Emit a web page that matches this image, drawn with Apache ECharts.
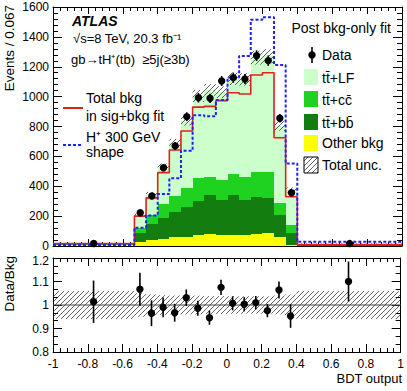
<!DOCTYPE html>
<html>
<head>
<meta charset="utf-8">
<script src="https://cdn.jsdelivr.net/npm/echarts@6/dist/echarts.min.js"></script>
<style>
  html, body { margin: 0; padding: 0; background: #fff; }
  #chart { width: 407px; height: 391px; }
</style>
</head>
<body>
<div id="chart"></div>
<script>
// BDT output bin edges (first and last bins are wide)
const binEdges = [-1, -0.5333, -0.4667, -0.4, -0.3333, -0.2667, -0.2, -0.1333, -0.0667, 0,
                  0.0667, 0.1333, 0.2, 0.2667, 0.3333, 0.4, 1];

// post bkg-only fit, events / 0.067
const otherBkg = [5, 30, 40, 50, 57, 62, 72, 82, 74, 74, 76, 78, 84, 62, 5, 3];
const ttbb     = [4, 55, 110, 140, 168, 198, 228, 259, 234, 267, 234, 252, 236, 148, 85, 4];
const ttcc     = [2, 33, 60, 90, 113, 130, 155, 123, 134, 141, 150, 167, 173, 76, 50, 2];
const ttLF     = [6, 89, 137, 250, 352, 450, 550, 581, 588, 637, 655, 764, 778, 518, 235, 6];
const totUnc   = [0.06, 0.05, 0.045, 0.042, 0.04, 0.04, 0.04, 0.038, 0.038, 0.037, 0.037, 0.037, 0.037, 0.04, 0.045, 0.06];

const dataVals = [17, 223, 335, 524, 670, 866, 993, 989, 1105, 1127, 1118, 1274, 1241, 855, 357, 16];
const dataErr  = [1.5, 15, 18, 23, 26, 29, 32, 31, 33, 34, 33, 36, 35, 29, 19, 1.5];

const sigBkgTotal = [16, 200, 322, 491, 643, 770, 930, 935, 973, 1026, 1018, 1145, 1160, 725, 330, 10];
const hplusShape  = [6, 123, 205, 348, 453, 638, 875, 868, 977, 1128, 1272, 1515, 1532, 1212, 553, 28];

const ratioVals = [1.014, 1.067, 0.965, 0.99, 0.967, 1.031, 0.986, 0.946, 1.075, 1.007, 1.003, 1.01, 0.976, 1.064, 0.953, 1.1];
const ratioErr  = [0.09, 0.07, 0.055, 0.042, 0.038, 0.035, 0.032, 0.03, 0.032, 0.03, 0.03, 0.028, 0.028, 0.036, 0.05, 0.085];

const FONT = '"Liberation Sans", Arial, sans-serif';
const C_LF = '#ccffcc', C_CC = '#1fd21f', C_BB = '#137d0f', C_OTHER = '#ffff00';
const C_RED = '#e0201b', C_BLUE = '#1f1fff';

const centers = dataVals.map((_, i) => (binEdges[i] + binEdges[i + 1]) / 2);
const stepPoints = vals => binEdges.map((e, i) => [e, vals[Math.min(i, vals.length - 1)]]);

// stack the components bottom-up
const layers = [[otherBkg, C_OTHER], [ttbb, C_BB], [ttcc, C_CC], [ttLF, C_LF]];
const stackRows = [];
let base = otherBkg.map(() => 0);
layers.forEach(([vals]) => {
  const top = vals.map((v, i) => base[i] + v);
  stackRows.push(vals.map((v, i) => [binEdges[i], binEdges[i + 1], base[i], top[i]]));
  base = top;
});
const totalBkg = base;

function makeHatch() {
  const n = 5;
  const c = document.createElement('canvas');
  c.width = n; c.height = n;
  const g = c.getContext('2d');
  g.strokeStyle = '#222';
  g.lineWidth = 0.7;
  g.beginPath();
  g.moveTo(0, n); g.lineTo(n, 0);
  g.moveTo(-1, 1); g.lineTo(1, -1);
  g.moveTo(n - 1, n + 1); g.lineTo(n + 1, n - 1);
  g.stroke();
  return { image: c, repeat: 'repeat', imageWidth: n, imageHeight: n };
}
const hatch = makeHatch();

function axis(extra, tickLen, minorLen, minorSplit) {
  return Object.assign({
    type: 'value',
    axisLine: { show: true, onZero: false, lineStyle: { color: '#000', width: 1 } },
    axisTick: { show: true, inside: true, length: tickLen, lineStyle: { color: '#000', width: 1 } },
    minorTick: { show: true, splitNumber: minorSplit, length: minorLen, lineStyle: { color: '#000', width: 1 } },
    splitLine: { show: false },
    axisLabel: { show: false }
  }, extra);
}
const tickLabel = (margin, formatter) => ({
  show: true, color: '#000', fontSize: 12, fontFamily: FONT, margin,
  formatter: formatter || (v => String(+v.toFixed(2))),
  rich: { low: { fontSize: 12, fontFamily: FONT, color: '#000', padding: [6, 0, 0, 0] } }
});

function rectSeries(xi, yi, rows, fill, z, snap) {
  return {
    type: 'custom', xAxisIndex: xi, yAxisIndex: yi, silent: true, z, clip: true,
    data: rows,
    renderItem: (params, api) => {
      const p0 = api.coord([api.value(0), api.value(3)]);
      const p1 = api.coord([api.value(1), api.value(2)]);
      const r = snap ? Math.round : (v => v);
      const x = r(p0[0]), y = r(p0[1]);
      return { type: 'rect', shape: { x, y, width: r(p1[0]) - x, height: r(p1[1]) - y },
               style: { fill, stroke: null } };
    }
  };
}

function pointSeries(xi, yi, rows) {
  return {
    type: 'custom', xAxisIndex: xi, yAxisIndex: yi, silent: true, z: 6, clip: false,
    data: rows,
    renderItem: (params, api) => {
      const x = api.value(0), y = api.value(1), e = api.value(2);
      const top = api.coord([x, y + e]), bot = api.coord([x, y - e]), c = api.coord([x, y]);
      return { type: 'group', children: [
        { type: 'line', shape: { x1: top[0], y1: top[1], x2: bot[0], y2: bot[1] }, style: { stroke: '#000', lineWidth: 1.6 } },
        { type: 'circle', shape: { cx: c[0], cy: c[1], r: 3.7 }, style: { fill: '#000' } }
      ] };
    }
  };
}

const txt = (text, x, y, size, opts = {}) => ({
  type: 'text', x, y, rotation: opts.rot || 0, silent: true, z: 10,
  style: { text, x: 0, y: 0, fill: '#000', font: `${opts.style || ''} ${size}px ${FONT}`,
           textAlign: opts.align || 'left', textVerticalAlign: 'middle' }
});
const box = (y, fill) => ({ type: 'rect', silent: true, z: 10,
  shape: { x: 304, y: y - 8, width: 14, height: 16 }, style: { fill, stroke: fill === hatch ? '#000' : null, lineWidth: 1 } });

const chart = echarts.init(document.getElementById('chart'), null, { renderer: 'svg' });

chart.setOption({
  animation: false,
  backgroundColor: '#fff',
  grid: [
    { left: 53, top: 7, width: 349, height: 239 },
    { left: 53, top: 258, width: 349, height: 94 }
  ],
  xAxis: [
    axis({ gridIndex: 0, position: 'bottom', min: -1, max: 1, interval: 0.2 }, 7, 4, 5),
    axis({ gridIndex: 0, position: 'top', min: -1, max: 1, interval: 0.2 }, 7, 4, 5),
    axis({ gridIndex: 1, position: 'bottom', min: -1, max: 1, interval: 0.2, axisLabel: tickLabel(6) }, 8, 4, 5),
    axis({ gridIndex: 1, position: 'top', min: -1, max: 1, interval: 0.2 }, 8, 4, 5)
  ],
  yAxis: [
    axis({ gridIndex: 0, position: 'left', min: 0, max: 1600, interval: 200, axisLabel: tickLabel(4) }, 9, 5, 5),
    axis({ gridIndex: 0, position: 'right', min: 0, max: 1600, interval: 200 }, 9, 5, 5),
    axis({ gridIndex: 1, position: 'left', min: 0.8, max: 1.2, interval: 0.1,
           axisLabel: tickLabel(4, v => { const s = String(+v.toFixed(2)); return v > 1.15 ? '{low|' + s + '}' : s; }) }, 9, 5, 3),
    axis({ gridIndex: 1, position: 'right', min: 0.8, max: 1.2, interval: 0.1 }, 9, 5, 3)
  ],
  series: [
    ...stackRows.map((rows, k) => rectSeries(0, 0, rows, layers[k][1], 1, true)),
    rectSeries(0, 0, totalBkg.map((t, i) => [binEdges[i], binEdges[i + 1], t * (1 - totUnc[i]), t * (1 + totUnc[i])]), hatch, 3, false),
    {
      type: 'line', xAxisIndex: 0, yAxisIndex: 0, step: 'end', symbol: 'none', silent: true, z: 4,
      data: stepPoints(sigBkgTotal), lineStyle: { color: C_RED, width: 1.6 }
    },
    {
      type: 'line', xAxisIndex: 0, yAxisIndex: 0, step: 'end', symbol: 'none', silent: true, z: 5,
      data: stepPoints(hplusShape), lineStyle: { color: C_BLUE, width: 2, type: [3, 2] }
    },
    pointSeries(0, 0, dataVals.map((v, i) => [centers[i], v, dataErr[i]])),
    // ratio panel
    rectSeries(2, 2, totUnc.map((u, i) => [binEdges[i], binEdges[i + 1], 1 - u, 1 + u]), hatch, 3, false),
    {
      type: 'line', xAxisIndex: 2, yAxisIndex: 2, symbol: 'none', silent: true, z: 4,
      data: [[-1, 1], [1, 1]], lineStyle: { color: '#444', width: 1 }
    },
    pointSeries(2, 2, ratioVals.map((v, i) => [centers[i], v, ratioErr[i]]))
  ],
  graphic: [
    txt('Events / 0.067', 9, 5, 13.5, { rot: Math.PI / 2, align: 'right' }),
    txt('Data/Bkg', 9, 256, 13.5, { rot: Math.PI / 2, align: 'right' }),
    txt('BDT output', 402, 378, 13, { align: 'right' }),
    txt('ATLAS', 72, 21, 14, { style: 'italic bold' }),
    txt('\u221As=8 TeV, 20.3 fb\u207B\u00B9', 73, 38, 13),
    txt('gb\u2192tH\u207A(tb)  \u22655j(\u22653b)', 71, 59, 13),
    txt('Post bkg-only fit', 391, 28, 14, { align: 'right' }),
    // right legend
    { type: 'line', silent: true, z: 10, shape: { x1: 312, y1: 47, x2: 312, y2: 63 }, style: { stroke: '#000', lineWidth: 1.6 } },
    { type: 'circle', silent: true, z: 10, shape: { cx: 312, cy: 55, r: 3.7 }, style: { fill: '#000' } },
    txt('Data', 322, 55, 14),
    box(77, C_LF), txt('tt\u0304+LF', 322, 78, 14),
    box(99, C_CC), txt('tt\u0304+cc\u0304', 322, 100, 14),
    box(122, C_BB), txt('tt\u0304+bb\u0304', 322, 123, 14),
    box(143, C_OTHER), txt('Other bkg', 322, 143, 14),
    box(165, hatch), txt('Total unc.', 322, 165, 14),
    // left legend
    { type: 'line', silent: true, z: 10, shape: { x1: 63, y1: 108, x2: 83, y2: 108 }, style: { stroke: C_RED, lineWidth: 2 } },
    txt('Total bkg', 86, 98, 14),
    txt('in sig+bkg fit', 86, 116, 14),
    { type: 'line', silent: true, z: 10, shape: { x1: 63, y1: 145, x2: 83, y2: 145 }, style: { stroke: C_BLUE, lineWidth: 2, lineDash: [3, 2] } },
    txt('H\u207A 300 GeV', 86, 137, 14),
    txt('shape', 86, 152, 14)
  ]
});
</script>
</body>
</html>
